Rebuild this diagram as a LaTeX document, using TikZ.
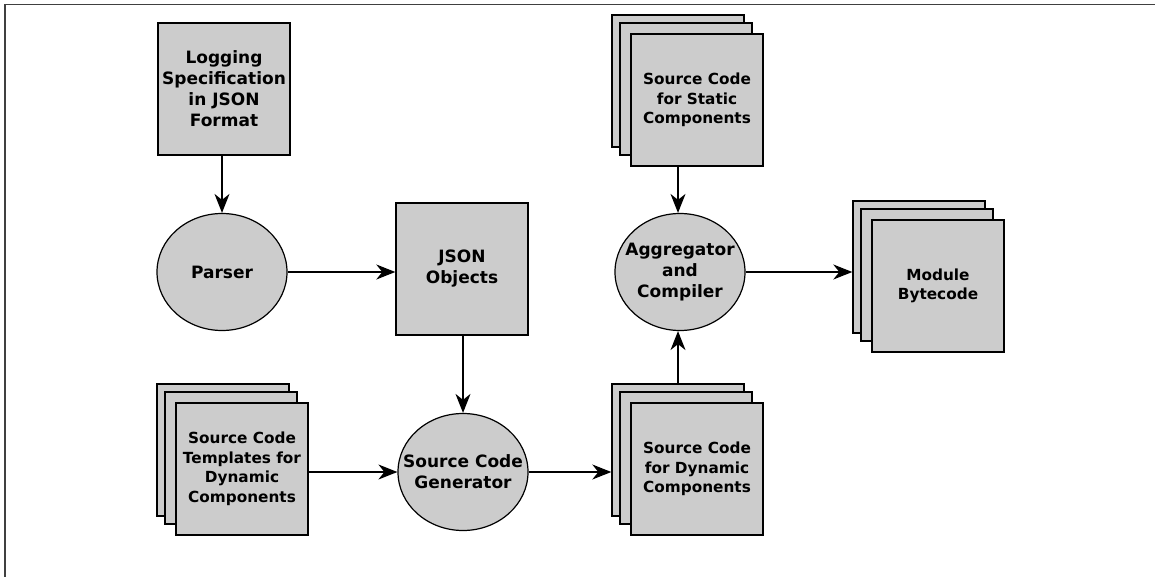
\documentclass[tikz,border=0pt]{standalone}
\usepackage{fontspec}
\setmainfont{DejaVu Sans}
\usetikzlibrary{shapes.geometric,arrows.meta}
\definecolor{boxgray}{HTML}{CCCCCC}
\definecolor{framegray}{HTML}{404040}
\tikzset{
  x=1pt,y=-1pt,
  biglbl/.style={font=\fontsize{17}{21}\selectfont\bfseries, align=center, text=black},
  smalllbl/.style={font=\fontsize{15.3}{19.5}\selectfont\bfseries, align=center, text=black},
  box/.style={draw=black, line width=1.4pt, fill=boxgray, rectangle, minimum width=132pt, minimum height=132pt, inner sep=0pt},
  doc/.style={box, smalllbl},
  plainbox/.style={box, biglbl},
  proc/.style={draw=black, line width=1.2pt, fill=boxgray, ellipse, minimum width=130pt, minimum height=117pt, inner sep=0pt},
  proclbl/.style={biglbl, inner sep=0pt},
  flow/.style={line width=1.2pt, -{Stealth[length=19pt,width=15pt,inset=6pt]}},
  frame/.style={draw=framegray, line width=1.8pt}
}
\begin{document}
\begin{tikzpicture}
\useasboundingbox (0,0) rectangle (1155,577);
\coordinate (fr0) at (5,577);
\coordinate (fr1) at (5,4.5);
\coordinate (fr2) at (1155,4.5);
\draw[frame] (fr0) -- (fr1) -- (fr2);

% Logging specification
\node[plainbox] (log) at (224,89) {Logging\\Specification\\in JSON\\Format};
% Parser
\node[proc] (parser) at (222,272) {};
\node[proclbl] (parsert) at (parser.center) {Parser};
% JSON objects
\node[plainbox] (json) at (462,269) {JSON\\Objects};
% Templates stack
\node[box] (tback) at (223,450) {};
\node[box] (tmid) at (231,458) {};
\node[doc] (tfront) at (242,469) {Source Code\\Templates for\\Dynamic\\Components};
% Generator
\node[proc] (gen) at (463,472) {};
\node[proclbl] (gent) at (gen.center) {Source Code\\Generator};
% Dynamic stack
\node[box] (dback) at (678,450) {};
\node[box] (dmid) at (686,458) {};
\node[doc] (dfront) at (697,469) {Source Code\\for Dynamic\\Components};
% Static stack
\node[box] (sback) at (678,81) {};
\node[box] (smid) at (686,89) {};
\node[doc] (sfront) at (697,100) {Source Code\\for Static\\Components};
% Aggregator
\node[proc] (agg) at (680,272) {};
\node[proclbl] (aggt) at (agg.center) {Aggregator\\and\\Compiler};
% Module stack
\node[box] (mback) at (919,267) {};
\node[box] (mmid) at (927,275) {};
\node[doc] (mfront) at (938,286) {Module\\Bytecode};

% connectors
\draw[flow] (log.south -| parser.north) -- (parser.north);
\draw[flow] (parser.east) -- (parser.east -| json.west);
\draw[flow] (json.south -| gen.north) -- (gen.north);
\draw[flow] (gen.west -| tfront.east) -- (gen.west);
\draw[flow] (gen.east) -- (gen.east -| dback.west);
\draw[flow] (dback.north) -- (dback.north |- agg.south);
\draw[flow] (sfront.south -| sback.south) -- (sback.south |- agg.north);
\draw[flow] (agg.east) -- (agg.east -| mback.west);
\end{tikzpicture}
\end{document}
